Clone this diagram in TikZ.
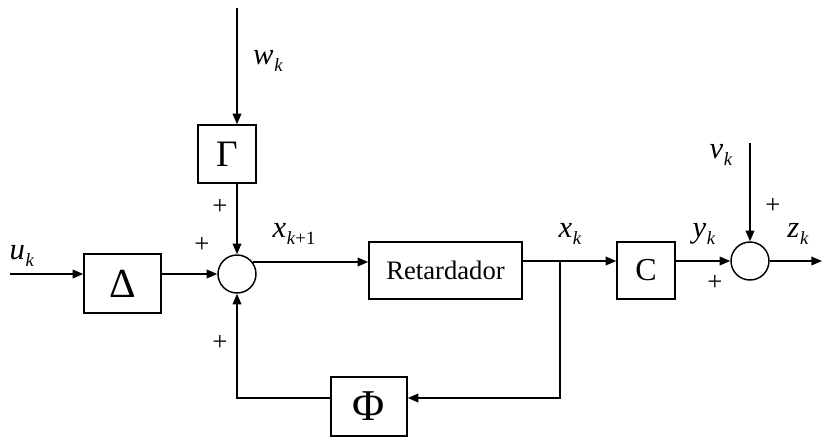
\documentclass[tikz,border=0pt]{standalone}
\usepackage{fontspec}
\setmainfont{Liberation Serif}
\usetikzlibrary{arrows.meta}
\newcommand\sv[2]{\textit{#1}\kern0.5pt\raisebox{-0.5ex}{\fontsize{14}{14}\selectfont\textit{#2}}}
\tikzset{
  blk/.style={draw, line width=1.1pt, inner sep=0pt},
  summ/.style={draw, circle, line width=1.1pt, minimum size=28.5pt, inner sep=0pt},
  conn/.style={line width=1.1pt, -{Triangle[length=8pt,width=6.5pt]}},
  lbl/.style={inner sep=0pt, font=\fontsize{23}{23}\selectfont},
  sgn/.style={inner sep=0pt, font=\fontsize{20}{20}\selectfont},
}
\begin{document}
\begin{tikzpicture}[x=0.75pt,y=-0.75pt]
\useasboundingbox (0,0) rectangle (822,437);
% blocks
\node[blk, minimum width=57.75pt, minimum height=44.25pt, font=\fontsize{31}{31}\selectfont] (D) at (122.5,283.5) {Δ};
\node[blk, minimum width=43.5pt, minimum height=43.5pt, font=\fontsize{28}{28}\selectfont] (G) at (227,154) {Γ};
\node[blk, minimum width=114.75pt, minimum height=42.75pt, font=\fontsize{20}{20}\selectfont] (R) at (445.5,270.5) {Retardador};
\node[blk, minimum width=43.5pt, minimum height=42.75pt, font=\fontsize{24}{24}\selectfont] (C) at (646,270.5) {C};
\node[blk, minimum width=57pt, minimum height=44.25pt, font=\fontsize{33}{33}\selectfont] (P) at (369,406.5) {Φ};
\node[summ] (S1) at (237,274) {};
\node[summ] (S2) at (750,261) {};
% free ends
\coordinate (u) at (10,274);
\coordinate (w) at (237,8);
\coordinate (v) at (750,143);
\coordinate (zo) at (822,261);
\coordinate (br) at (560,261);
\coordinate (fb) at (560,398);
\coordinate (so) at (252.7,262);
% connectors
\draw[conn] (u) -- (u -| D.west);
\draw[conn] (D.east |- u) -- (S1.west);
\draw[conn] (w) -- (w |- G.north);
\draw[conn] (w |- G.south) -- (S1.north);
\draw[conn] (so) -- (so -| R.west);
\draw[conn] (R.east |- S2) -- (C.west |- S2);
\draw[conn] (C.east |- S2) -- (S2.west);
\draw[conn] (S2.east) -- (zo);
\draw[conn] (v) -- (S2.north);
\draw[conn] (br) -- (fb) -- (fb -| P.east);
\draw[conn] (fb -| P.west) -| (S1.south);
% labels
\node[lbl] (lu) at (22,256) {\sv{u}{k}};
\node[lbl] (lw) at (268,61) {\sv{w}{k}};
\node[lbl] (lx1) at (294,234) {\textit{x}\kern0.5pt\raisebox{-0.5ex}{\fontsize{14}{14}\selectfont\textit{k}+1}};
\node[lbl] (lxk) at (570,234) {\sv{x}{k}};
\node[lbl] (lyk) at (704,234) {\sv{y}{k}};
\node[lbl] (lzk) at (798,234) {\sv{z}{k}};
\node[lbl] (lvk) at (721,155) {\sv{v}{k}};
\node[sgn] (p1) at (220,207) {+};
\node[sgn] (p2) at (202,245) {+};
\node[sgn] (p3) at (220,343) {+};
\node[sgn] (p4) at (773,206) {+};
\node[sgn] (p5) at (715,283) {+};
\end{tikzpicture}
\end{document}
